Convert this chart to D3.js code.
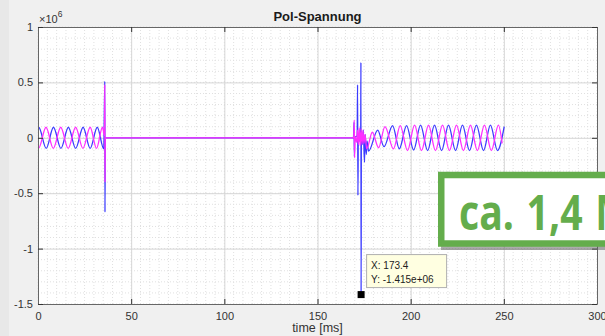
<!DOCTYPE html>
<html>
<head>
<meta charset="utf-8">
<title>Pol-Spannung</title>
<script src="https://cdn.jsdelivr.net/npm/d3@7"></script>
<style>
  html, body { margin: 0; padding: 0; background: #f0f0f0; overflow: hidden; }
  svg { display: block; font-family: "Liberation Sans", Arial, sans-serif; }
</style>
</head>
<body>
<div id="chart"></div>
<script>
// time in ms, voltage in units of 10^6 (as on the axis)
const xTicks = [0, 50, 100, 150, 200, 250, 300];
const yTicks = [-1.5, -1, -0.5, 0, 0.5, 1];
const xMinor = d3.range(0, 301, 5);
const yMinor = d3.range(-1.5, 1.001, 0.1);

// extrema, joined with a monotone curve
const blueSeries = [
  [0, 0.085], [0.4, 0.095], [4.4, -0.095], [8.3, 0.095], [12.3, -0.095],
  [16.3, 0.095], [20.2, -0.095], [24.2, 0.095], [28.0, -0.095], [31.8, 0.095],
  [35.3, -0.1], [35.85, 0.51], [35.95, -0.67], [36.1, 0],
  [169.3, 0], [169.6, 0.14], [169.8, -0.17], [170.0, 0], [171.3, 0.02],
  [171.5, 0.48], [171.7, -0.52], [171.9, 0.04], [172.6, -0.03], [173.2, 0.05],
  [173.3, 0.68], [173.4, -1.415], [173.55, 0.06], [174.1, -0.06], [174.6, 0.07],
  [175.2, -0.22], [175.6, 0.03], [176.2, -0.15], [176.6, -0.03], [177.4, -0.12],
  [182.3, 0.07], [185.7, -0.08], [190.3, 0.11], [193.9, -0.1], [197.8, 0.11],
  [201.6, -0.11], [205.3, 0.115], [209.1, -0.115], [212.8, 0.115], [216.6, -0.115],
  [220.3, 0.115], [224.1, -0.115], [227.8, 0.115], [231.6, -0.115], [235.3, 0.115],
  [239.1, -0.115], [242.8, 0.115], [246.6, -0.115], [250.2, 0.1]
];

const magentaSeries = [
  [0, -0.09], [0.3, -0.095], [4.3, 0.095], [8.2, -0.095], [12.2, 0.095],
  [16.2, -0.095], [20.2, 0.095], [24.1, -0.095], [28.0, 0.095], [31.4, -0.095],
  [34.6, 0.095], [35.7, 0.02], [35.85, 0.48], [35.95, -0.4], [36.1, 0],
  [169.4, 0], [169.7, 0.16], [169.9, -0.18], [170.1, 0.01], [171.0, -0.04],
  [171.4, 0.07], [171.9, -0.06], [172.4, 0.09], [172.9, -0.07], [173.4, 0.08],
  [173.9, -0.06], [174.4, 0.07], [174.9, -0.05], [175.5, 0.03], [176.4, -0.1],
  [179.4, 0.05], [182.8, -0.09], [186.2, 0.1], [190.8, -0.1], [194.4, 0.11],
  [198.3, -0.115], [202.1, 0.115], [205.8, -0.115], [209.6, 0.115], [213.3, -0.115],
  [217.1, 0.115], [220.8, -0.115], [224.6, 0.115], [228.3, -0.115], [232.1, 0.115],
  [235.8, -0.115], [239.6, 0.115], [243.3, -0.115], [247.1, 0.115], [249.1, -0.05]
];

const datatip = [173.4, -1.415];
const titleText = "Pol-Spannung";
const xLabel = "time [ms]";
const noteText = "ca. 1,4 M";

class PolChart {

  constructor(ele, opts) {
    this.ele = ele;
    this.opts = opts;

    this.opts.width = this.opts.width || 605;
    this.opts.height = this.opts.height || 336;
  }

  getXScale() {
    return d3.scaleLinear()
      .domain([0, 300])
      .range([38, 597]);
  }

  getYScale() {
    return d3.scaleLinear()
      .domain([-1.5, 1])
      .range([304, 27]);
  }

  getSvg() {
    return d3.select(this.ele)
      .append("svg")
      .attr("width", this.opts.width)
      .attr("height", this.opts.height);
  }

  render() {
    const x = this.getXScale(),
      y = this.getYScale();
    const svg = this.getSvg();

    const left = x.range()[0], right = x.range()[1],
      top = y.range()[1], bottom = y.range()[0];

    svg.append("rect")
      .attr("width", this.opts.width)
      .attr("height", this.opts.height)
      .attr("fill", "#f0f0f0");
    svg.append("rect")
      .attr("width", 9)
      .attr("height", this.opts.height)
      .attr("fill", "#e8e8e8");

    svg.append("rect")
      .attr("x", left).attr("y", top)
      .attr("width", right - left).attr("height", bottom - top)
      .attr("fill", "#fff");

    svg.append("clipPath").attr("id", "plot-clip")
      .append("rect")
      .attr("x", left).attr("y", top)
      .attr("width", right - left).attr("height", bottom - top);

    //minor grid (dotted)
    const grid = svg.append("g").attr("class", "grid");
    grid.selectAll("line.vminor")
      .data(xMinor)
      .enter().append("line")
      .attr("x1", d => x(d)).attr("x2", d => x(d))
      .attr("y1", top).attr("y2", bottom)
      .attr("stroke", "#e0e0e0")
      .attr("stroke-dasharray", "1,2");
    grid.selectAll("line.hminor")
      .data(yMinor)
      .enter().append("line")
      .attr("x1", left).attr("x2", right)
      .attr("y1", d => y(d)).attr("y2", d => y(d))
      .attr("stroke", "#e0e0e0")
      .attr("stroke-dasharray", "1,2");

    //major grid
    svg.append("g")
      .attr("transform", "translate(0," + bottom + ")")
      .call(d3.axisBottom(x).tickValues(xTicks).tickSize(-(bottom - top)).tickFormat(""))
      .call(g => g.select(".domain").remove())
      .selectAll("line").attr("stroke", "#d6d6d6");
    svg.append("g")
      .attr("transform", "translate(" + left + ",0)")
      .call(d3.axisLeft(y).tickValues(yTicks).tickSize(-(right - left)).tickFormat(""))
      .call(g => g.select(".domain").remove())
      .selectAll("line").attr("stroke", "#d6d6d6");

    //signals
    const line = d3.line()
      .x(d => x(d[0]))
      .y(d => y(d[1]))
      .curve(d3.curveMonotoneX);

    const plot = svg.append("g").attr("clip-path", "url(#plot-clip)");
    plot.append("path")
      .datum(blueSeries)
      .attr("d", line)
      .attr("fill", "none")
      .attr("stroke", "#3b3bff")
      .attr("stroke-width", 1.3);
    plot.append("path")
      .datum(magentaSeries)
      .attr("d", line)
      .attr("fill", "none")
      .attr("stroke", "#ff2eff")
      .attr("stroke-width", 1.3);

    //axes, ticks pointing inwards
    const axisStyle = g => {
      g.select(".domain").attr("stroke", "#666");
      g.selectAll(".tick line").attr("stroke", "#333");
      g.selectAll("text")
        .attr("fill", "#333")
        .style("font-size", "11px")
        .style("font-family", "'Liberation Sans', Arial, sans-serif");
    };

    svg.append("g")
      .attr("transform", "translate(0," + bottom + ")")
      .call(d3.axisBottom(x).tickValues(xTicks).tickSize(-5).tickSizeOuter(0).tickPadding(8)
        .tickFormat(d => String(d)))
      .call(axisStyle);
    svg.append("g")
      .attr("transform", "translate(0," + top + ")")
      .call(d3.axisTop(x).tickValues(xTicks).tickSize(-5).tickSizeOuter(0).tickFormat(""))
      .call(axisStyle);
    svg.append("g")
      .attr("transform", "translate(" + left + ",0)")
      .call(d3.axisLeft(y).tickValues(yTicks).tickSize(-5).tickSizeOuter(0).tickPadding(5)
        .tickFormat(d => String(d)))
      .call(axisStyle);
    svg.append("g")
      .attr("transform", "translate(" + right + ",0)")
      .call(d3.axisRight(y).tickValues(yTicks).tickSize(-5).tickSizeOuter(0).tickFormat(""))
      .call(axisStyle);

    //exponent, title, label
    const expo = svg.append("text")
      .attr("x", left + 1).attr("y", 23)
      .attr("fill", "#333")
      .style("font-size", "11px")
      .text("\u00d710");
    expo.append("tspan")
      .attr("dy", -6)
      .style("font-size", "8.5px")
      .text("6");

    svg.append("text")
      .attr("x", (left + right) / 2).attr("y", 21)
      .attr("text-anchor", "middle")
      .attr("fill", "#1a1a1a")
      .style("font-size", "13px")
      .style("font-weight", "bold")
      .text(titleText);

    svg.append("text")
      .attr("x", (left + right) / 2).attr("y", 332)
      .attr("text-anchor", "middle")
      .attr("fill", "#333")
      .style("font-size", "12.5px")
      .text(xLabel);

    //data tip
    const tx = x(datatip[0]), ty = y(datatip[1]);
    const tip = svg.append("g");
    tip.append("rect")
      .attr("x", tx + 5.5).attr("y", ty - 40)
      .attr("width", 80).attr("height", 33)
      .attr("fill", "#ffffe1")
      .attr("stroke", "#b0b0b0");
    tip.append("text")
      .attr("x", tx + 10).attr("y", ty - 26)
      .attr("fill", "#222")
      .style("font-size", "10px")
      .text("X: " + datatip[0]);
    tip.append("text")
      .attr("x", tx + 10).attr("y", ty - 12)
      .attr("fill", "#222")
      .style("font-size", "10px")
      .text("Y: " + d3.format(".3e")(datatip[1] * 1e6).replace("\u2212", "-").replace(/e([+-])(\d)$/, "e$10$2"));
    tip.append("rect")
      .attr("x", tx - 3.5).attr("y", ty - 3.5)
      .attr("width", 7).attr("height", 7)
      .attr("fill", "#000");

    //green callout
    const note = svg.append("g");
    note.append("rect")
      .attr("x", 441).attr("y", 176)
      .attr("width", 200).attr("height", 74)
      .attr("fill", "#5a5a5a")
      .attr("opacity", 0.5);
    note.append("rect")
      .attr("x", 441.25).attr("y", 175)
      .attr("width", 200).attr("height", 68.5)
      .attr("fill", "#fff")
      .attr("stroke", "#64ad4c")
      .attr("stroke-width", 6.5);
    note.append("text")
      .attr("transform", "translate(459,230) scale(0.8,1)")
      .attr("fill", "#64ad4c")
      .style("font-family", "'Open Sans', sans-serif")
      .style("font-weight", "bold")
      .style("font-size", "49px")
      .style("word-spacing", "3px")
      .text(noteText);
  }
}

new PolChart(document.getElementById("chart"), {width: 605, height: 336}).render();
</script>
</body>
</html>
